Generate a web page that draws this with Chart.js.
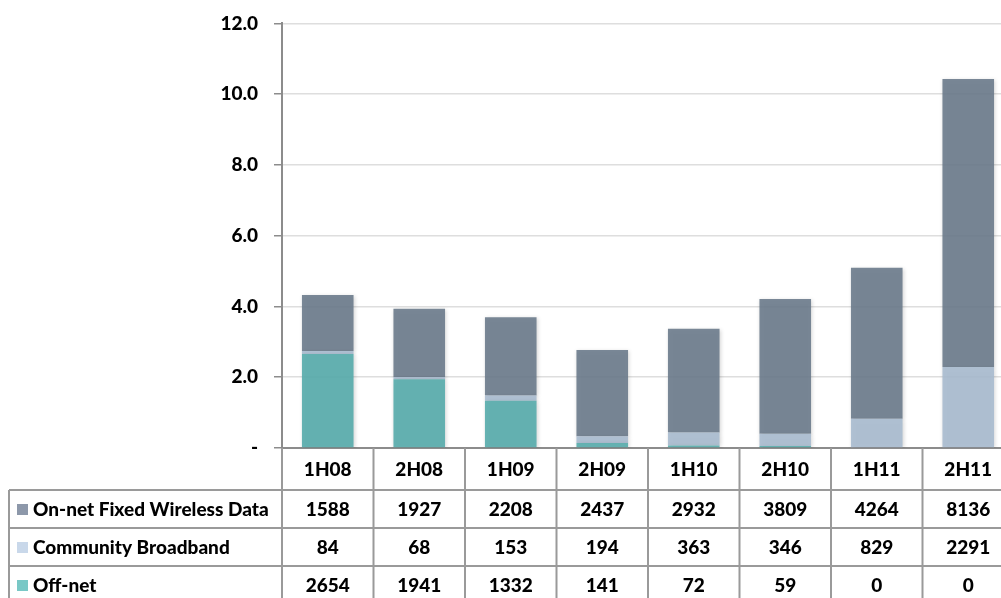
<!DOCTYPE html>
<html>
<head>
<meta charset="utf-8">
<script src="https://cdn.jsdelivr.net/npm/chart.js@4/dist/chart.umd.min.js"></script>
<style>
  html, body { margin: 0; padding: 0; background: #fff; overflow: hidden; }
  #wrap { width: 1001px; height: 598px; overflow: hidden; position: relative; }
  canvas { display: block; position: absolute; left: 0; top: -4px; }
</style>
</head>
<body>
<div id="wrap"><canvas id="c" width="1016" height="602"></canvas></div>
<script>
// Half-year periods
const categories = ['1H08', '2H08', '1H09', '2H09', '1H10', '2H10', '1H11', '2H11'];

// Subscriber counts per period
const onNetFixedWireless = [1588, 1927, 2208, 2437, 2932, 3809, 4264, 8136];
const communityBroadband = [84, 68, 153, 194, 363, 346, 829, 2291];
const offNet = [2654, 1941, 1332, 141, 72, 59, 0, 0];

// Row labels of the data table
const seriesNames = ['On-net Fixed Wireless Data', 'Community Broadband', 'Off-net'];

const FONT = 'Lato, "Open Sans", sans-serif';
const WEIGHT = '900';
const SIZE = 19;

const barColors = {
  onNet: 'rgba(108,123,140,0.90)',
  community: 'rgba(169,187,207,0.90)',
  offNet: 'rgba(89,173,173,0.92)'
};
const swatchColors = ['#8d98aa', '#c9d8ea', '#79c8c6'];

const toThousands = arr => arr.map(v => v / 1000);

// Soft shadow behind the bars
const barShadow = {
  id: 'barShadow',
  beforeDatasetsDraw(chart) {
    const ctx = chart.ctx;
    ctx.save();
    ctx.shadowColor = 'rgba(0,0,0,0.18)';
    ctx.shadowBlur = 4;
    ctx.shadowOffsetX = 1;
    ctx.shadowOffsetY = 1;
  },
  afterDatasetsDraw(chart) {
    chart.ctx.restore();
  }
};

// Data table under the plot, aligned with the category scale
const dataTable = {
  id: 'dataTable',
  afterDraw(chart) {
    const ctx = chart.ctx;
    const xs = chart.scales.x;
    const area = chart.chartArea;
    const n = categories.length;
    const colW = (area.right - area.left) / n;
    const top = area.bottom;
    const rowTops = [top, top + 42, top + 80, top + 118, top + 156];
    const tableLeft = 9;
    const rows = [onNetFixedWireless, communityBroadband, offNet];

    ctx.save();
    ctx.strokeStyle = '#9a9a9a';
    ctx.lineWidth = 2;

    // horizontal rules
    ctx.beginPath();
    for (let r = 1; r < rowTops.length; r++) {
      ctx.moveTo(tableLeft, rowTops[r]);
      ctx.lineTo(area.right, rowTops[r]);
    }
    // column rules
    for (let i = 0; i <= n; i++) {
      const x = area.left + i * colW;
      ctx.moveTo(x, top);
      ctx.lineTo(x, rowTops[4]);
    }
    ctx.moveTo(tableLeft, rowTops[1]);
    ctx.lineTo(tableLeft, rowTops[4]);
    ctx.stroke();

    ctx.fillStyle = '#000';
    ctx.font = WEIGHT + ' ' + SIZE + 'px ' + FONT;
    ctx.textBaseline = 'middle';
    ctx.textAlign = 'center';

    // header
    categories.forEach((c, i) => {
      const cx = xs.getPixelForValue(i);
      ctx.fillText(c, cx, (rowTops[0] + rowTops[1]) / 2 + 1);
    });

    // data rows
    rows.forEach((vals, r) => {
      const cy = (rowTops[r + 1] + rowTops[r + 2]) / 2 + 1;
      ctx.textAlign = 'center';
      vals.forEach((v, i) => {
        ctx.fillText(String(v), xs.getPixelForValue(i), cy);
      });
      ctx.fillStyle = swatchColors[r];
      ctx.fillRect(17, cy - 6, 11, 11);
      ctx.fillStyle = '#000';
      ctx.textAlign = 'left';
      ctx.fillText(seriesNames[r], 33, cy);
    });
    ctx.restore();
  }
};

new Chart(document.getElementById('c'), {
  type: 'bar',
  data: {
    labels: categories,
    datasets: [
      { label: seriesNames[2], data: toThousands(offNet), backgroundColor: barColors.offNet },
      { label: seriesNames[1], data: toThousands(communityBroadband), backgroundColor: barColors.community },
      { label: seriesNames[0], data: toThousands(onNetFixedWireless), backgroundColor: barColors.onNet }
    ]
  },
  options: {
    responsive: false,
    animation: false,
    devicePixelRatio: 1,
    layout: { padding: { top: 7, right: 2, left: 0, bottom: 0 } },
    datasets: { bar: { categoryPercentage: 1, barPercentage: 0.564 } },
    plugins: { legend: { display: false }, tooltip: { enabled: false } },
    scales: {
      x: {
        stacked: true,
        ticks: { display: false },
        grid: { display: false },
        border: { display: true, color: '#8c8c8c', width: 2 },
        afterFit(scale) { scale.height = 150; }
      },
      y: {
        stacked: true,
        min: 0,
        max: 12,
        ticks: {
          stepSize: 2,
          padding: 16,
          color: '#000',
          font: { family: FONT, size: SIZE, weight: WEIGHT },
          callback: v => (v === 0 ? '-' : v.toFixed(1))
        },
        grid: { color: '#dedede', lineWidth: 1.5, tickColor: '#8c8c8c', tickLength: 8 },
        border: { color: '#8c8c8c', width: 2 },
        afterFit(scale) { scale.width = 282; }
      }
    }
  },
  plugins: [barShadow, dataTable]
});
</script>
</body>
</html>
